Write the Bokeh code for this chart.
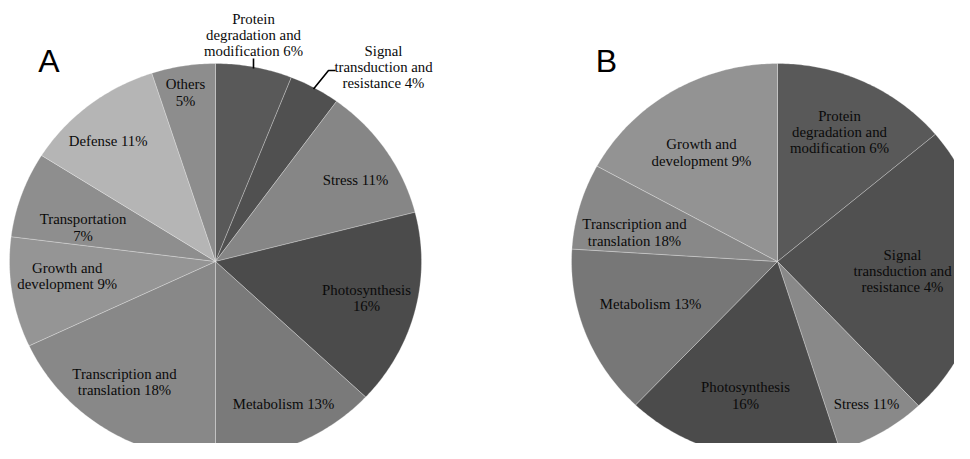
import numpy as np
from bokeh.plotting import figure
from bokeh.models import Range1d, ColumnDataSource
from bokeh.core.properties import value
from bokeh.embed import file_html
from bokeh.resources import INLINE

# ---------------- data ----------------
labels_a = ["Protein\ndegradation and\nmodification 6%", "Signal\ntransduction and\nresistance 4%",
            "Stress 11%", "Photosynthesis\n16%", "Metabolism 13%",
            "Transcription and\ntranslation 18%", "Growth and\ndevelopment 9%",
            "Transportation\n7%", "Defense 11%", "Others\n5%"]
values_a = [6, 4, 11, 16, 13, 18, 9, 7, 11, 5]
colors_a = ["#595959", "#505050", "#868686", "#4b4b4b", "#7a7a7a",
            "#888888", "#959595", "#8e8e8e", "#b5b5b5", "#8d8d8d"]

labels_b = ["Protein\ndegradation and\nmodification 6%", "Signal\ntransduction and\nresistance 4%",
            "Stress 11%", "Photosynthesis\n16%", "Metabolism 13%",
            "Transcription and\ntranslation 18%", "Growth and\ndevelopment 9%"]
values_b = [13.9, 24.1, 7.1, 17.0, 13.9, 7.0, 17.0]
colors_b = ["#595959", "#505050", "#898989", "#4b4b4b", "#777777",
            "#888888", "#939393"]

panel_titles = ["A", "B"]

# ---------------- layout (picture pixels) ----------------
W, H = 954, 443
pies = [dict(cx=215, cy=261, rx=206, ry=198), dict(cx=777, cy=261, rx=206, ry=198)]
label_pos_a = [(253, 34.5), (383, 66.3), (355, 179), (366, 297.5), (283, 403.3),
               (124, 381.3), (66.7, 275.3), (82.5, 227), (107.7, 140), (185, 92)]
label_pos_b = [(839, 131.5), (902, 270.6), (866, 403.3), (745, 395), (650, 303.3),
               (634, 232), (701, 152)]
title_pos = [(48.5, 60), (606, 60)]
LINE_H = 16.3

p = figure(width=W, height=H, output_backend="svg", toolbar_location=None,
           x_range=Range1d(0, W), y_range=Range1d(-H, 0),
           min_border=0, background_fill_color="white", border_fill_color="white")
p.axis.visible = False
p.grid.visible = False
p.outline_line_color = None


def slices(vals, geo):
    tot = float(sum(vals))
    cum = np.concatenate([[0.0], np.cumsum(vals)]) / tot * 2 * np.pi
    xs, ys = [], []
    for a0, a1 in zip(cum[:-1], cum[1:]):
        th = np.linspace(a0, a1, max(int((a1 - a0) * 80), 4))
        x = np.concatenate([[geo["cx"]], geo["cx"] + geo["rx"] * np.sin(th)])
        y = np.concatenate([[geo["cy"]], geo["cy"] - geo["ry"] * np.cos(th)])
        xs.append(list(x))
        ys.append(list(-y))
    return xs, ys


for vals, cols, geo in [(values_a, colors_a, pies[0]), (values_b, colors_b, pies[1])]:
    xs, ys = slices(vals, geo)
    src = ColumnDataSource(dict(xs=xs, ys=ys, c=cols))
    p.patches("xs", "ys", source=src, fill_color="c", line_color="white",
              line_alpha=0.35, line_width=0.8)

# labels
tx, ty, tt = [], [], []
for labs, poss in [(labels_a, label_pos_a), (labels_b, label_pos_b)]:
    for lab, (lx, ly) in zip(labs, poss):
        lines = lab.split("\n")
        n = len(lines)
        for i, ln in enumerate(lines):
            tx.append(lx)
            ty.append(-(ly + (i - (n - 1) / 2) * LINE_H))
            tt.append(ln)
p.text(x=tx, y=ty, text=tt, text_font=value("Liberation Serif"), text_font_size="14.8px",
       text_align="center", text_baseline="middle", text_color="#0a0a0a")

# leader lines (pie A)
p.line(x=[253, 253], y=[-58, -68], line_color="black", line_width=1.6)
p.line(x=[335, 328, 313], y=[-70, -70, -88.5], line_color="black", line_width=1.6)

# panel letters
p.text(x=[t[0] for t in title_pos], y=[-t[1] for t in title_pos], text=panel_titles,
       text_font=value("Liberation Sans"), text_font_size="32px",
       text_align="center", text_baseline="middle", text_color="black")

open("out.html", "w").write(file_html(p, INLINE))
